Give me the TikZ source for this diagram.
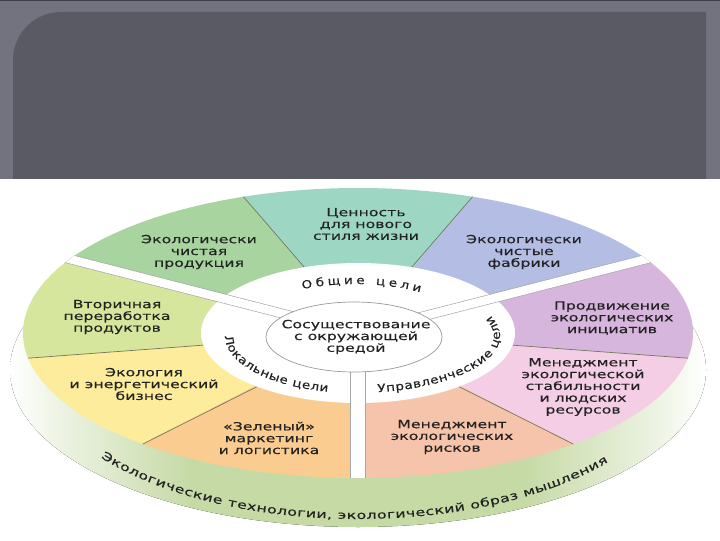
\documentclass[tikz,border=0pt]{standalone}
\usepackage{fontspec}
\setmainfont{DejaVu Sans}
\newfontfamily\wheelfont[FakeStretch=1.4,FakeBold=0.3]{DejaVu Sans}
\newfontfamily\ringfam[FakeStretch=1.2,FakeBold=0.3]{DejaVu Sans}
\usetikzlibrary{decorations.text}

\definecolor{panel}{HTML}{5A5A65}
\definecolor{panelrim}{HTML}{72737E}
\definecolor{prodcol}{HTML}{A8D4A0}
\definecolor{cenncol}{HTML}{9ED6C4}
\definecolor{fabrcol}{HTML}{B4BEE4}
\definecolor{prodvcol}{HTML}{D6B6DC}
\definecolor{stabcol}{HTML}{F4CEE4}
\definecolor{riskcol}{HTML}{F6C4AA}
\definecolor{zelcol}{HTML}{FACC90}
\definecolor{enercol}{HTML}{FCEC9C}
\definecolor{vtorcol}{HTML}{D6E69C}
\definecolor{bandgreen}{HTML}{C6DAA6}
\colorlet{bandlight}{bandgreen!35}
\definecolor{seamcol}{HTML}{76765E}
\definecolor{inkcol}{HTML}{222222}

\pgfdeclarehorizontalshading{bandshade}{100bp}{color(0bp)=(white); color(25bp)=(white); color(29bp)=(bandlight); color(38bp)=(bandgreen); color(62bp)=(bandgreen); color(71bp)=(bandlight); color(75bp)=(white); color(100bp)=(white)}

\newcommand{\ringfont}{\ringfam\fontsize{8}{9}\selectfont\color{inkcol}}
\newcommand{\bandfont}{\wheelfont\fontsize{8}{9}\selectfont\color{inkcol}}

\tikzset{
  sector/.style={align=center, text=inkcol, inner sep=0pt,
    font=\wheelfont\fontsize{8}{8.4}\selectfont},
  seam/.style={draw=seamcol, line width=0.5pt},
  gapband/.style={draw=black!35, line width=0.45pt, double=white, double distance=#1},
  ringtext/.style={decorate, decoration={text along path, text align={fit to path}, text={|\ringfont|#1}}},
  bandtext/.style={decorate, decoration={text along path, text align={fit to path}, text={|\bandfont|#1}}}
}

\begin{document}
\begin{tikzpicture}[x=0.025cm,y=0.025cm]
\useasboundingbox (0,0) rectangle (720,540);
\fill[white] (0,0) rectangle (720,540);
% slide header
\fill[panelrim] (0,361) rectangle (720,540);
\fill[panel] (13,361) -- (13,480) arc[start angle=180, end angle=90, radius=48] -- (706,528) -- (706,361) -- cycle;
\fill[panel!70!black] (0,538.5) rectangle (720,540);

% the wheel, centre at (358,207)
\begin{scope}[shift={(358,207)}]
  \fill[shading=bandshade] (0,-37) ellipse[x radius=348, y radius=157];
  \foreach \a/\col in {30/fabrcol, 70/cenncol, 110/prodcol, 150/vtorcol, 190/enercol,
                       230/zelcol, 270/riskcol, 310/stabcol, 350/prodvcol}
    \fill[\col] (0,0) -- (\a:335 and 145) arc[start angle=\a, end angle=\a+40, x radius=335, y radius=145] -- cycle;
  \foreach \a in {70,110,190,230,310,350}
    \draw[seam] (\a:157 and 70) -- (\a:335 and 145);
  \fill[white] (0,0) ellipse[x radius=157, y radius=70];
  \begin{scope}
    \clip (0,0) ellipse[x radius=335, y radius=145];
    \foreach \a/\w in {30/6pt, 150/6pt, 270/10pt}
      \draw[gapband=\w] (0,0) -- (\a:360 and 160);
  \end{scope}
  \filldraw[fill=white, draw=black!40, line width=0.5pt] (-4,-4) ellipse[x radius=88, y radius=35];
  % ring captions
  \begin{scope}[shift={(-3,-3)}]
    \path[ringtext={Общие цели}] (116:120 and 52) arc[start angle=116, end angle=57, x radius=120, y radius=52];
    \path[ringtext={Локальные цели}] (180:130 and 57) arc[start angle=180, end angle=258, x radius=130, y radius=57];
    \path[ringtext={Управленческие цели}] (279:145 and 57) arc[start angle=279, end angle=381, x radius=145, y radius=57];
  \end{scope}
  \path[bandtext={Экологические технологии, экологический образ мышления}]
    (0,-32) ++(217:322 and 154) arc[start angle=217, end angle=321, x radius=322, y radius=154];
\end{scope}

\node[sector] (prodlbl) at (199,288) {Экологически\\чистая\\продукция};
\node[sector] (cennlbl) at (366,316) {Ценность\\для нового\\стиля жизни};
\node[sector] (fabrlbl) at (524,288) {Экологически\\чистые\\фабрики};
\node[sector] (vtorlbl) at (117,223) {Вторичная\\переработка\\продуктов};
\node[sector] (enerlbl) at (144,156) {Экология\\и энергетический\\бизнес};
\node[sector] (zellbl) at (269,102) {«Зеленый»\\маркетинг\\и логистика};
\node[sector] (risklbl) at (452,103) {Менеджмент\\экологических\\рисков};
\node[sector] (stablbl) at (583,153) {Менеджмент\\экологической\\стабильности\\и людских\\ресурсов};
\node[sector] (prodvlbl) at (612,222) {Продвижение\\экологических\\инициатив};
\node[sector] (corelbl) at (356,203) {Сосуществование\\с окружающей\\средой};
\end{tikzpicture}
\end{document}
